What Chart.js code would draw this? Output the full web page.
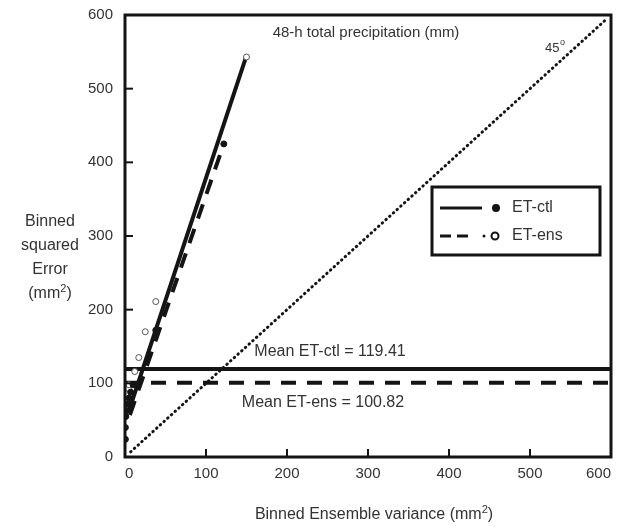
<!DOCTYPE html>
<html>
<head>
<meta charset="utf-8">
<script src="https://cdn.jsdelivr.net/npm/chart.js@4.4.1/dist/chart.umd.min.js"></script>
<style>
  html, body { margin: 0; padding: 0; background: #fff; }
  #wrap { width: 619px; height: 526px; }
</style>
</head>
<body>
<div id="wrap"><canvas id="chart" width="619" height="526"></canvas></div>
<script>
// Axis ticks
const xTicks = [0, 100, 200, 300, 400, 500, 600];
const yTicks = [0, 100, 200, 300, 400, 500, 600];

// Binned points, filled markers
const filledVar = [0.5, 0.5, 1, 2, 3, 5, 7, 10, 38, 122];
const filledErr = [24, 40, 55, 63, 72, 80, 88, 98, 172, 425];
// Binned points, hollow markers
const hollowVar = [1, 2, 4, 5, 12, 17, 25, 38, 150];
const hollowErr = [60, 75, 93, 98, 116, 135, 170, 211, 543];

// Fitted lines
const ctlFitVar = [4, 150];
const ctlFitErr = [60, 545];
const ensFitVar = [6, 122];
const ensFitErr = [57, 425];

// Means
const meanCtl = 119.41;
const meanEns = 100.82;
const meanSpan = [0, 600];

// 45 degree reference
const diagSpan = [7, 595];

const ink = '#141414';
const textCol = '#333';
const font = 'Arial, "Liberation Sans", sans-serif';

const pts = (xs, ys) => xs.map((x, i) => ({ x, y: ys[i] }));

// text with a raised small "2" before the last character
function supText(ctx, before, sup, after, cx, cy, size) {
  ctx.font = size + 'px ' + font;
  const w1 = ctx.measureText(before).width;
  const w3 = ctx.measureText(after).width;
  ctx.font = Math.round(size * 0.7) + 'px ' + font;
  const w2 = ctx.measureText(sup).width;
  let x0 = cx - (w1 + w2 + w3) / 2;
  ctx.textAlign = 'left';
  ctx.font = size + 'px ' + font;
  ctx.fillText(before, x0, cy);
  ctx.font = Math.round(size * 0.7) + 'px ' + font;
  ctx.fillText(sup, x0 + w1, cy - size * 0.32);
  ctx.font = size + 'px ' + font;
  ctx.fillText(after, x0 + w1 + w2, cy);
}

const overlay = {
  id: 'overlay',
  afterDatasetsDraw(chart) {
    const { ctx, chartArea: a, scales: { x, y } } = chart;
    ctx.save();
    // inward ticks
    ctx.strokeStyle = ink;
    ctx.lineWidth = 2;
    xTicks.slice(1, -1).forEach(v => {
      const px = x.getPixelForValue(v);
      ctx.beginPath(); ctx.moveTo(px, a.bottom); ctx.lineTo(px, a.bottom - 8); ctx.stroke();
    });
    yTicks.slice(1, -1).forEach(v => {
      const py = y.getPixelForValue(v);
      ctx.beginPath(); ctx.moveTo(a.left, py); ctx.lineTo(a.left + 8, py); ctx.stroke();
    });
    // frame
    ctx.lineWidth = 3;
    ctx.strokeRect(a.left, a.top, a.right - a.left, a.bottom - a.top);

    // texts
    ctx.fillStyle = textCol;
    ctx.textBaseline = 'middle';
    ctx.textAlign = 'center';
    ctx.font = '15px ' + font;
    ctx.fillText('48-h total precipitation (mm)', 366, 33);
    ctx.font = '16px ' + font;
    ctx.fillText('Mean ET-ctl = 119.41', 330, 352);
    ctx.fillText('Mean ET-ens = 100.82', 323, 403);
    ctx.textAlign = 'left';
    ctx.font = '13px ' + font;
    ctx.fillText('45', 545, 48);
    ctx.font = '9px ' + font;
    ctx.fillText('o', 560, 43);

    // y title
    ctx.textAlign = 'center';
    ctx.font = '16px ' + font;
    ['Binned', 'squared', 'Error'].forEach((s, i) => ctx.fillText(s, 50, 222 + i * 24));
    supText(ctx, '(mm', '2', ')', 50, 294, 16);

    // x title
    supText(ctx, 'Binned Ensemble variance (mm', '2', ')', 374, 515, 16);

    // legend
    const L = 432, T = 187, R = 600, B = 255;
    ctx.fillStyle = '#fff';
    ctx.fillRect(L, T, R - L, B - T);
    ctx.strokeStyle = ink;
    ctx.lineWidth = 3;
    ctx.strokeRect(L, T, R - L, B - T);
    ctx.beginPath(); ctx.moveTo(440, 208); ctx.lineTo(482, 208); ctx.stroke();
    ctx.setLineDash([11, 6]);
    ctx.beginPath(); ctx.moveTo(440, 236); ctx.lineTo(474, 236); ctx.stroke();
    ctx.setLineDash([]);
    ctx.fillStyle = ink;
    ctx.beginPath(); ctx.arc(484, 236, 1.5, 0, Math.PI * 2); ctx.fill();
    ctx.beginPath(); ctx.arc(496, 208, 4, 0, Math.PI * 2); ctx.fill();
    ctx.lineWidth = 2;
    ctx.beginPath(); ctx.arc(495, 236, 3.5, 0, Math.PI * 2); ctx.stroke();
    ctx.fillStyle = textCol;
    ctx.textAlign = 'left';
    ctx.font = '16px ' + font;
    ctx.fillText('ET-ctl', 512, 208);
    ctx.fillText('ET-ens', 512, 236);
    ctx.restore();
  }
};

const lineDs = (data, extra) => Object.assign({
  data, showLine: true, pointRadius: 0, borderColor: ink, borderWidth: 4,
  backgroundColor: ink, fill: false, tension: 0
}, extra);

new Chart(document.getElementById('chart'), {
  type: 'scatter',
  data: {
    datasets: [
      {
        label: 'filled', data: pts(filledVar, filledErr), pointRadius: 3,
        pointBackgroundColor: ink, pointBorderColor: ink, pointBorderWidth: 1, order: 0
      },
      {
        label: 'hollow', data: pts(hollowVar, hollowErr), pointRadius: 3,
        pointBackgroundColor: '#fff', pointBorderColor: '#555', pointBorderWidth: 1, order: 0
      },
      lineDs(pts(ctlFitVar, ctlFitErr), { label: 'ctl fit', order: 1 }),
      lineDs(pts(ensFitVar, ensFitErr), { label: 'ens fit', borderDash: [15, 11], order: 1 }),
      lineDs(pts(meanSpan, [meanCtl, meanCtl]), { label: 'mean ctl', order: 2 }),
      lineDs(pts(meanSpan, [meanEns, meanEns]), { label: 'mean ens', borderDash: [15, 11], order: 2 }),
      lineDs(pts(diagSpan, diagSpan), {
        label: '45', borderWidth: 3, borderDash: [0.5, 4.5], borderCapStyle: 'round', order: 3
      })
    ]
  },
  options: {
    responsive: false,
    animation: false,
    layout: { autoPadding: false, padding: { top: 15, right: 8, left: 0, bottom: 0 } },
    plugins: { legend: { display: false }, tooltip: { enabled: false } },
    scales: {
      x: {
        type: 'linear', min: 0, max: 600,
        afterBuildTicks: s => { s.ticks = xTicks.map(v => ({ value: v })); },
        afterFit: s => { s.height = 69; s.paddingLeft = 0; s.paddingRight = 0; },
        grid: { display: false, drawTicks: false },
        border: { display: false },
        ticks: { color: textCol, font: { size: 15, family: font }, padding: 8, maxRotation: 0, align: 'inner' }
      },
      y: {
        type: 'linear', min: 0, max: 600,
        afterBuildTicks: s => { s.ticks = yTicks.map(v => ({ value: v })); },
        afterFit: s => { s.width = 125; s.paddingTop = 0; s.paddingBottom = 0; },
        grid: { display: false, drawTicks: false },
        border: { display: false },
        ticks: { color: textCol, font: { size: 15, family: font }, padding: 12 }
      }
    }
  },
  plugins: [overlay]
});
</script>
</body>
</html>
